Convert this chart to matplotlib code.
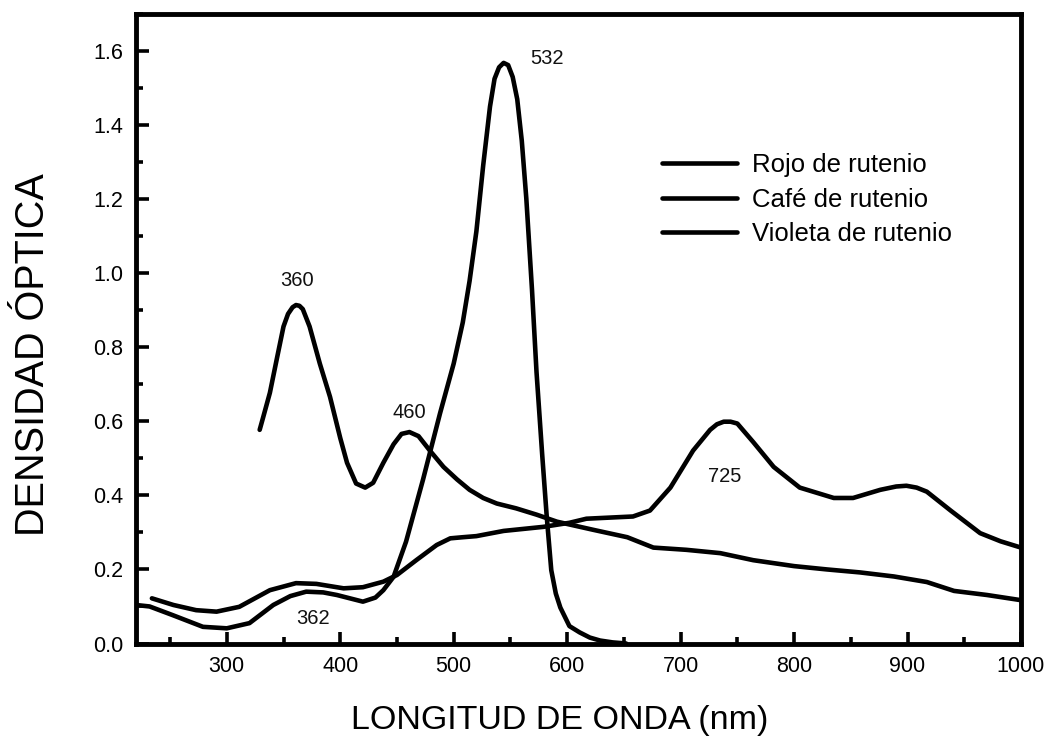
import matplotlib
matplotlib.use("Agg")
import matplotlib.pyplot as plt
from matplotlib.ticker import MultipleLocator, FormatStrFormatter

plt.rcParams["font.family"] = ["Liberation Sans", "DejaVu Sans"]

# Rojo de rutenio (band at 532 nm)
rojo_nm = [220, 232, 252, 279, 300, 320, 341, 356, 370, 385, 397, 420, 431, 438, 447, 458, 473,
           488, 500, 508, 514, 520, 526, 532, 536, 540, 544, 548, 552, 556, 560, 564, 569, 573,
           578, 582, 586, 590, 594, 602, 611, 620, 629, 640, 652]
rojo_do = [0.104, 0.100, 0.077, 0.045, 0.041, 0.055, 0.104, 0.128, 0.140, 0.138, 0.131, 0.113,
           0.124, 0.144, 0.180, 0.275, 0.443, 0.622, 0.756, 0.867, 0.979, 1.113, 1.291, 1.450,
           1.525, 1.556, 1.568, 1.562, 1.530, 1.470, 1.358, 1.202, 0.956, 0.733, 0.510, 0.343,
           0.198, 0.135, 0.097, 0.047, 0.030, 0.016, 0.008, 0.003, 0.0]

# Cafe de rutenio (bands at 360 and 460 nm)
cafe_nm = [329, 332, 338, 344, 350, 354, 358, 361, 364, 367, 373, 382, 391, 400, 406, 414, 422,
           429, 438, 447, 454, 461, 469, 479, 491, 503, 514, 526, 538, 555, 573, 591, 623, 653,
           676, 705, 735, 764, 800, 829, 858, 888, 917, 941, 970, 1000]
cafe_do = [0.577, 0.610, 0.677, 0.767, 0.856, 0.890, 0.908, 0.914, 0.912, 0.903, 0.856, 0.756,
           0.666, 0.555, 0.488, 0.432, 0.421, 0.434, 0.488, 0.538, 0.566, 0.571, 0.560, 0.521,
           0.477, 0.443, 0.415, 0.393, 0.378, 0.365, 0.348, 0.329, 0.307, 0.287, 0.259, 0.253,
           0.244, 0.225, 0.209, 0.200, 0.192, 0.181, 0.166, 0.142, 0.131, 0.117]

# Violeta de rutenio (bands at 362 and 725 nm)
violeta_nm = [234, 253, 273, 291, 311, 338, 361, 379, 403, 420, 438, 450, 467, 485, 497, 508,
              520, 544, 579, 602, 617, 658, 673, 691, 711, 726, 732, 738, 744, 750, 764, 782,
              805, 835, 852, 876, 890, 899, 908, 917, 938, 964, 982, 1000]
violeta_do = [0.122, 0.104, 0.090, 0.086, 0.099, 0.144, 0.163, 0.161, 0.149, 0.152, 0.167,
              0.185, 0.225, 0.266, 0.284, 0.287, 0.290, 0.304, 0.315, 0.326, 0.337, 0.343,
              0.359, 0.421, 0.521, 0.577, 0.592, 0.599, 0.599, 0.594, 0.544, 0.477, 0.421,
              0.393, 0.393, 0.415, 0.424, 0.426, 0.421, 0.410, 0.359, 0.298, 0.276, 0.259]

series = ["Rojo de rutenio", "Café de rutenio", "Violeta de rutenio"]
peak_text = ["360", "460", "532", "362", "725"]
peak_nm = [362, 461, 582, 376, 739]
peak_do = [0.98, 0.625, 1.58, 0.068, 0.45]

fig = plt.figure(figsize=(10.52, 7.41), dpi=100)
ax = fig.add_axes([136 / 1052, 1 - 643.5 / 741, 885 / 1052, 629.5 / 741])

lw = 3.3
for xs, ys, lab in zip([rojo_nm, cafe_nm, violeta_nm], [rojo_do, cafe_do, violeta_do], series):
    ax.plot(xs, ys, color="black", lw=lw, label=lab, solid_joinstyle="round",
            solid_capstyle="round")

for t, x, y in zip(peak_text, peak_nm, peak_do):
    ax.text(x, y, t, fontsize=14.5, ha="center", va="center", color="#111111")

ax.set_xlim(220, 1000)
ax.set_ylim(0, 1.70)
ax.xaxis.set_minor_locator(MultipleLocator(50))
ax.yaxis.set_minor_locator(MultipleLocator(0.1))
ax.set_xticks([300, 400, 500, 600, 700, 800, 900, 1000])
ax.set_yticks([0.0, 0.2, 0.4, 0.6, 0.8, 1.0, 1.2, 1.4, 1.6])
ax.yaxis.set_major_formatter(FormatStrFormatter("%.1f"))
ax.tick_params(which="major", direction="in", length=9, width=2.6, labelsize=15.5, pad=9)
ax.tick_params(which="minor", direction="in", length=5, width=2.6)
for s in ax.spines.values():
    s.set_linewidth(3.5)

ax.legend(loc="upper left", bbox_to_anchor=(0.594, 0.779), frameon=False,
          fontsize=18.5, handlelength=2.95, handletextpad=0.58, labelspacing=0.41,
          borderpad=0, borderaxespad=0)

fig.text(560 / 1052, 1 - 720 / 741, "LONGITUD DE ONDA (nm)", fontsize=24.5,
         ha="center", va="center")
fig.text(33 / 1052, 1 - 355 / 741, "DENSIDAD ÓPTICA", fontsize=28.5, rotation=90,
         ha="center", va="center")

fig.savefig("out.png", dpi=100, facecolor="white")
